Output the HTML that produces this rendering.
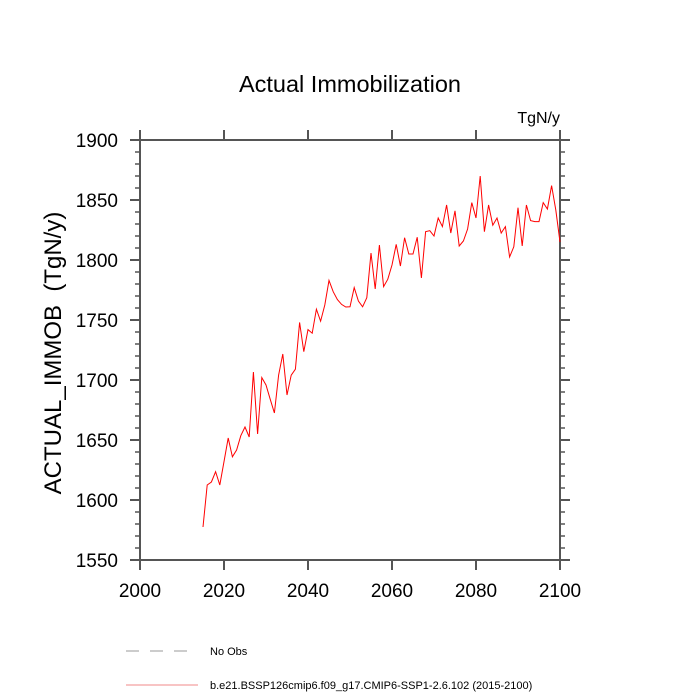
<!DOCTYPE html>
<html><head><meta charset="utf-8"><style>
body{margin:0;background:#fff}
svg{display:block;font-family:"Liberation Sans",sans-serif}
</style></head><body>
<svg id="c" width="700" height="700">
<text x="350" y="92" font-size="23.5" text-anchor="middle">Actual Immobilization</text>
<text x="560" y="123" font-size="16" text-anchor="end">TgN/y</text>
<text transform="translate(61,353) rotate(-90)" font-size="24" text-anchor="middle" style="white-space:pre">ACTUAL_IMMOB  (TgN/y)</text>
<g id="ax"></g>
<g>
<line x1="126" y1="651" x2="198" y2="651" stroke="#999" stroke-width="1" stroke-dasharray="13,11"/>
<text x="210" y="655" font-size="11">No Obs</text>
<line x1="126" y1="685" x2="198" y2="685" stroke="#f08888" stroke-width="1"/>
<text x="210" y="689" font-size="11">b.e21.BSSP126cmip6.f09_g17.CMIP6-SSP1-2.6.102 (2015-2100)</text>
</g>
</svg>
<script>
const years=[];for(let y=2015;y<=2100;y++)years.push(y);
const values=[1577.5,1612.5,1615,1623.6,1612.5,1632,1651.7,1636,1641.7,1653.6,1660.8,1652.5,1706.7,1655,1702,1695.8,1684,1672.5,1704,1721.7,1687.5,1704,1709,1748,1723.6,1742,1739,1759,1749,1762.5,1783,1773.6,1767,1763,1760.8,1761,1777,1765.8,1761,1768.6,1805.8,1775.8,1812.5,1777.8,1784,1795.8,1813,1795,1818.6,1805,1805,1819,1785,1823.6,1824.4,1820,1835,1827.8,1845.8,1822.5,1841,1811.7,1815.8,1825.8,1847.8,1835,1870,1823.6,1845.8,1829,1835,1822.5,1827.8,1802.5,1811,1843.6,1811.7,1845.8,1832.8,1832,1832,1847.8,1842.5,1862,1841.7,1815];
const xTicks=[2000,2020,2040,2060,2080,2100];
const yTicks=[1550,1600,1650,1700,1750,1800,1850,1900];
const X0=140,X1=560,Y0=560,Y1=140;
const xs=v=>X0+(v-2000)/(2100-2000)*(X1-X0);
const ys=v=>Y0-(v-1550)/(1900-1550)*(Y0-Y1);
const NS='http://www.w3.org/2000/svg';
const g=document.getElementById('ax');
function mk(t,a){const e=document.createElementNS(NS,t);for(const k in a)e.setAttribute(k,a[k]);g.appendChild(e);return e;}
const frame=mk('rect',{x:X0,y:Y1,width:X1-X0,height:Y0-Y1,fill:'none',stroke:'#555','stroke-width':2});


for(let v=1550;v<=1900;v+=10){
 const major=v%50===0,L=major?10:5,y=ys(v);
 const t1=mk('line',{x1:X0-L,y1:y,x2:X0,y2:y,stroke:'#555','stroke-width':major?2:1.5});
 
 
 const t2=mk('line',{x1:X1,y1:y,x2:X1+L,y2:y,stroke:'#555','stroke-width':major?2:1.5});
 
 
}
yTicks.forEach(v=>{
 const t=mk('text',{x:X0-22,y:ys(v)+7,'font-size':19,'text-anchor':'end'});t.textContent=v;
 
 
});
xTicks.forEach(v=>{
 const x=xs(v);
 const a=mk('line',{x1:x,y1:Y0,x2:x,y2:Y0+10,stroke:'#555','stroke-width':2});
 
 
 const b=mk('line',{x1:x,y1:Y1-10,x2:x,y2:Y1,stroke:'#555','stroke-width':2});
 
 
 const t=mk('text',{x:x,y:Y0+37,'font-size':19,'text-anchor':'middle'});t.textContent=v;
 
 
});
const pts=years.map((yr,i)=>xs(yr).toFixed(1)+','+ys(values[i]).toFixed(1)).join(' ');
const line=mk('polyline',{points:pts,fill:'none',stroke:'#ff0000','stroke-width':1});


</script>
</body></html>
